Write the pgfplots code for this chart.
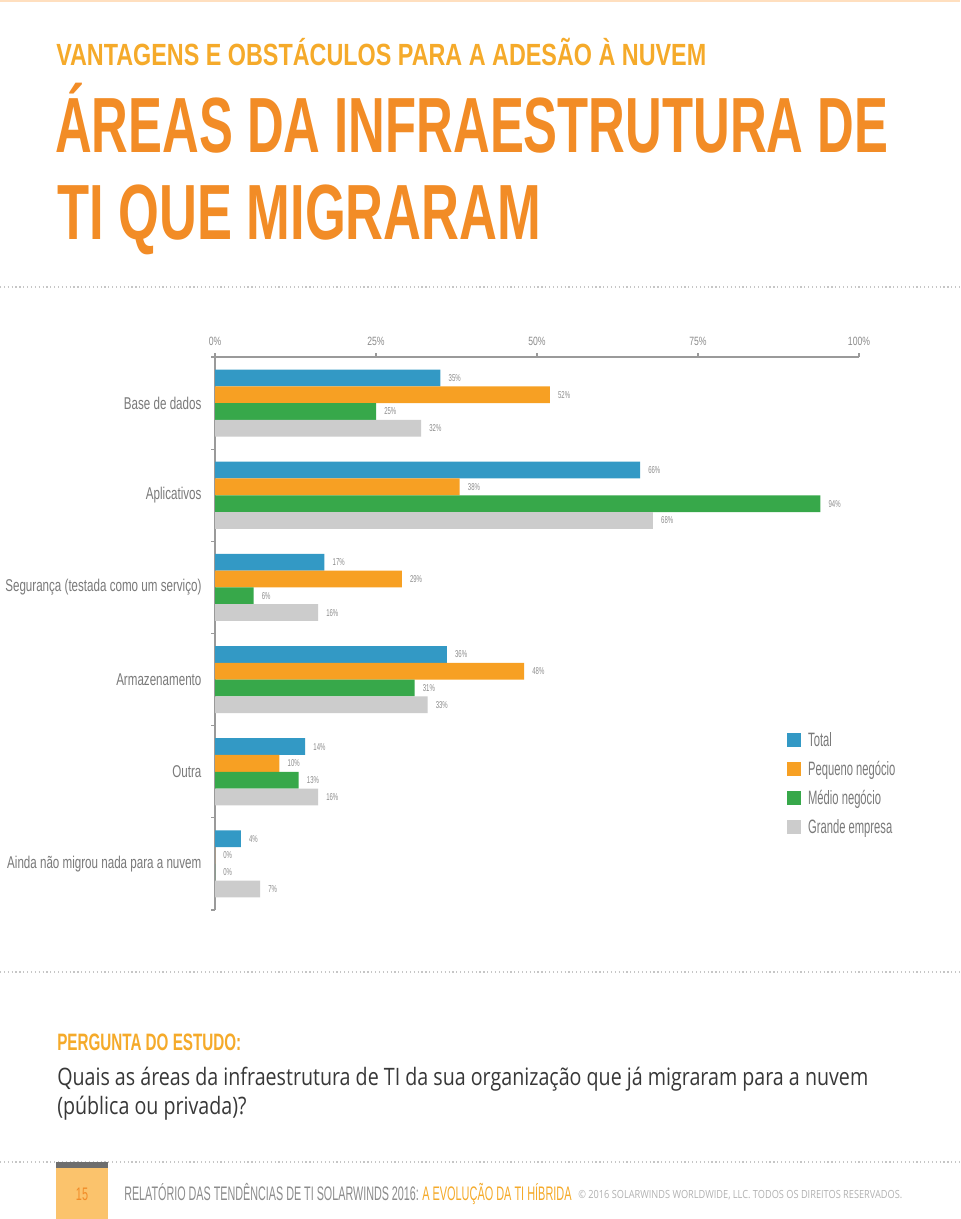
\documentclass[border=0pt]{standalone}
\usepackage{pgfplots}
\usepackage{pgfplotstable}
\pgfplotsset{compat=1.18}
\usepackage{graphicx}
\usepackage{fontspec}
\setmainfont{Liberation Sans}
\newfontfamily\opensans{Open Sans}
\definecolor{cTotal}{HTML}{3399C5}
\definecolor{cPeq}{HTML}{F7A023}
\definecolor{cMed}{HTML}{37A84A}
\definecolor{cGra}{HTML}{CCCCCC}
\definecolor{titleOr}{HTML}{F28C26}
\definecolor{subOr}{HTML}{F5AA2A}
\definecolor{txtGray}{HTML}{7A7A7A}
\definecolor{lblGray}{HTML}{8C8C8C}
\definecolor{axGray}{HTML}{9A9A9A}
\definecolor{footOr}{HTML}{FBC36C}
\definecolor{footGray}{HTML}{6E6E6E}
\newcommand\cond[1]{\scalebox{0.68}[1]{#1}}
\newcommand\lcond[1]{\scalebox{0.58}[1]{#1}}
\pgfplotstableread{
y total peq med gra
5 35 52 25 32
4 66 38 94 68
3 17 29 6 16
2 36 48 31 33
1 14 10 13 16
0 4 0 0 7
}\data
\begin{document}
\begin{tikzpicture}
\begin{scope}[x=0.75pt,y=-0.75pt]
\fill[white] (0,0) rectangle (960,1219);
\path[use as bounding box] (0,0) rectangle (960,1219);
\fill[orange!25] (0,0) rectangle (960,2);
% titles
\node[anchor=base west,inner sep=0pt,text=subOr] at (56,66)
 {\resizebox{487.5pt}{\height}{\fontsize{23}{23}\selectfont\bfseries VANTAGENS E OBSTÁCULOS PARA A ADESÃO À NUVEM}};
\node[anchor=base west,inner sep=0pt,text=titleOr] at (55,153)
 {\resizebox{624.75pt}{\height}{\fontsize{58.7}{58.7}\selectfont\bfseries ÁREAS DA INFRAESTRUTURA DE}};
\node[anchor=base west,inner sep=0pt,text=titleOr] at (57,240)
 {\resizebox{363pt}{\height}{\fontsize{58.7}{58.7}\selectfont\bfseries TI QUE MIGRARAM}};
\draw[gray!45,dotted,line width=0.9pt] (0,287) -- (960,287);
\draw[gray!45,dotted,line width=0.9pt] (0,972) -- (960,972);
\draw[gray!45,dotted,line width=0.9pt] (0,1162) -- (960,1162);
% question
\node[anchor=base west,inner sep=0pt,text=subOr] at (57,1050)
 {\resizebox{138pt}{\height}{\fontsize{17.8}{17.8}\selectfont\bfseries PERGUNTA DO ESTUDO:}};
\node[anchor=base west,inner sep=0pt,text=black!78] at (57,1085)
 {\resizebox{608.25pt}{\height}{\fontsize{18}{21.75}\selectfont\opensans\begin{tabular}[t]{@{}l@{}}Quais as áreas da infraestrutura de TI da sua organização que já migraram para a nuvem\\(pública ou privada)?\end{tabular}}};
% footer
\fill[footOr] (56,1168) rectangle (108,1219);
\fill[footGray] (56,1162) rectangle (108,1168);
\node[anchor=base,inner sep=0pt,text=orange!75!brown!90] at (82,1200)
 {\scalebox{0.6}[1]{\fontsize{13.6}{13.6}\selectfont 15}};
\node[anchor=base west,inner sep=0pt,text=gray!90] at (124,1200)
 {\resizebox{221pt}{\height}{\fontsize{14.7}{14.7}\selectfont RELATÓRIO DAS TENDÊNCIAS DE TI SOLARWINDS 2016:}};
\node[anchor=base west,inner sep=0pt,text=subOr] at (422,1200)
 {\resizebox{112pt}{\height}{\fontsize{14.7}{14.7}\selectfont A EVOLUÇÃO DA TI HÍBRIDA}};
\node[anchor=base west,inner sep=0pt,text=gray!60] at (578,1198)
 {\resizebox{243pt}{\height}{\fontsize{8.4}{8.4}\selectfont\opensans © 2016 SOLARWINDS WORLDWIDE, LLC. TODOS OS DIREITOS RESERVADOS.}};
\end{scope}
\begin{axis}[
  at={(161.25pt,-267.75pt)}, anchor=north west,
  scale only axis, width=483pt, height=414.75pt,
  xmin=0, xmax=100, ymin=-0.5, ymax=5.5,
  axis x line*=top, axis y line*=left,
  axis line style={draw=axGray,line width=0.9pt},
  clip=false,
  /pgf/number format/assume math mode=true,
  xtick={0,25,50,75,100},
  xticklabel={\scalebox{0.72}[1]{\pgfmathprintnumber{\tick}\%}},
  xticklabel style={font=\fontsize{9}{9}\selectfont, text=lblGray, yshift=2pt},
  ytick={0,1,2,3,4,5},
  yticklabels={{\cond{Ainda não migrou nada para a nuvem}},{\cond{Outra}},{\cond{Armazenamento}},{\cond{Segurança (testada como um serviço)}},{\cond{Aplicativos}},{\cond{Base de dados}}},
  yticklabel style={font=\fontsize{12.8}{12.8}\selectfont, text=txtGray, inner sep=0pt, anchor=east, xshift=-7pt},
  minor ytick={-0.5,0.5,1.5,2.5,3.5,4.5,5.5},
  major tick length=3pt, minor tick length=3pt, tick align=outside,
  tick style={draw=axGray,line width=0.8pt},
  major y tick style={draw=none},
  xbar, bar width=0.182,
  point meta=x,
  nodes near coords={\scalebox{0.6}[1]{\pgfmathprintnumber{\pgfplotspointmeta}\%}},
  every node near coord/.append style={font=\fontsize{7.5}{7.5}\selectfont, text=lblGray, inner sep=0pt, anchor=west, xshift=6pt},
  legend cell align=left,
  legend image code/.code={\fill[#1] (0pt,-4pt) rectangle (10.5pt,6.5pt);},
  legend style={draw=none, fill=none, inner sep=0pt, at={(0.888,0.3206)}, anchor=north west,
    font=\fontsize{14.5}{14.5}\selectfont, text=txtGray, row sep=8.75pt, column sep=5.25pt,
    nodes={inner sep=0pt, text height=10pt, text depth=3pt}},
]
\addplot[draw=none, fill=cTotal, bar shift=0.273] table[x=total,y=y]{\data};
\addplot[draw=none, fill=cPeq, bar shift=0.091] table[x=peq,y=y]{\data};
\addplot[draw=none, fill=cMed, bar shift=-0.091] table[x=med,y=y]{\data};
\addplot[draw=none, fill=cGra, bar shift=-0.273] table[x=gra,y=y]{\data};
\legend{\lcond{Total},\lcond{Pequeno negócio},\lcond{Médio negócio},\lcond{Grande empresa}}
\end{axis}
\end{tikzpicture}
\end{document}
